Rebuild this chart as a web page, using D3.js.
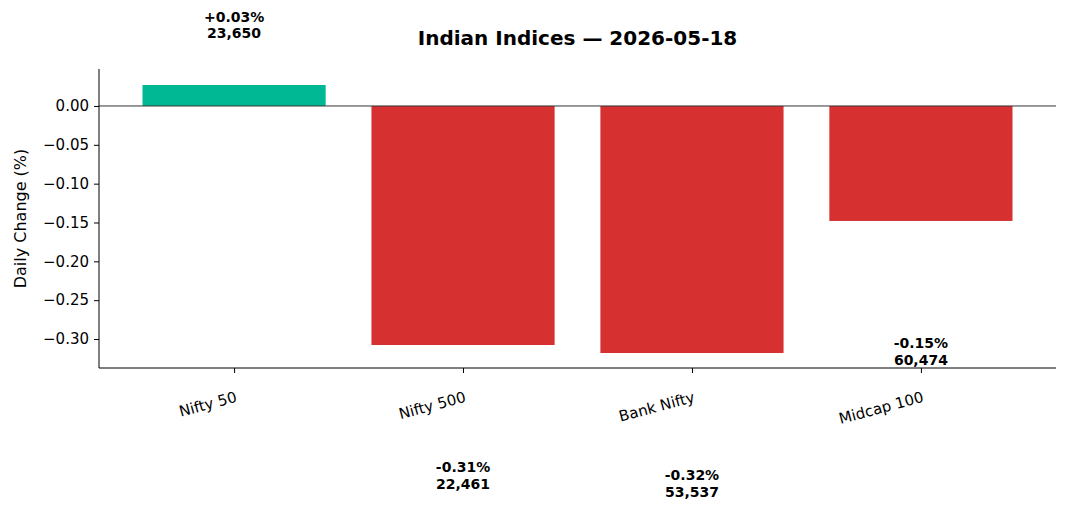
<!DOCTYPE html>
<html>
<head>
<meta charset="utf-8">
<script src="https://cdn.jsdelivr.net/npm/d3@7"></script>
<style>
  body { margin: 0; background: #fff; }
  text { font-family: "DejaVu Sans", sans-serif; }
</style>
</head>
<body>
<svg id="chart"></svg>
<script>
const indices = ["Nifty 50", "Nifty 500", "Bank Nifty", "Midcap 100"];
const changes = [0.027, -0.3077, -0.318, -0.148];
const changeLabels = ["+0.03%", "-0.31%", "-0.32%", "-0.15%"];
const levelLabels = ["23,650", "22,461", "53,537", "60,474"];
const yTicks = [0, -0.05, -0.10, -0.15, -0.20, -0.25, -0.30];

const width = 1067, height = 515;
const padLeft = 99, padRight = 1056, padTop = 69, padBottom = 368;

const svg = d3.select("#chart").attr("width", width).attr("height", height);

// x: matplotlib-like positions, bar width 0.8
let x = d3.scaleLinear().domain([-0.59, 3.59]).range([padLeft, padRight]);
let y = d3.scaleLinear().domain([-0.3373, 0.0476]).range([padBottom, padTop]);

//bars
svg.selectAll("rect.bar")
    .data(changes)
    .enter()
    .append("rect")
    .attr("class", "bar")
    .attr("x", (_d, i) => x(i - 0.4))
    .attr("width", x(0.8) - x(0))
    .attr("y", d => y(Math.max(0, d)))
    .attr("height", d => Math.abs(y(d) - y(0)))
    .attr("fill", d => d >= 0 ? "#00b894" : "#d63031");

// zero line
svg.append("line")
    .attr("x1", padLeft).attr("x2", padRight)
    .attr("y1", y(0)).attr("y2", y(0))
    .attr("stroke", "#333").attr("stroke-width", 1);

//axes
let yAxis = d3.axisLeft(y).tickValues(yTicks).tickSize(5).tickPadding(5)
    .tickFormat(d => d3.format(".2f")(d).replace("-", "\u2212"));
let gy = svg.append("g").attr("transform", `translate(${padLeft},0)`).call(yAxis);
gy.select(".domain").attr("d", `M0,${padTop}V${padBottom}`);

let xAxis = d3.axisBottom(x).tickValues([0, 1, 2, 3]).tickSize(5).tickFormat(i => indices[i]);
let gx = svg.append("g").attr("transform", `translate(0,${padBottom})`).call(xAxis);
gx.select(".domain").attr("d", `M${padLeft},0H${padRight}`);
gx.selectAll("text")
    .attr("text-anchor", "end")
    .attr("dy", 0)
    .attr("transform", "translate(0,22) rotate(-15)")
    .attr("y", 12)
    .attr("x", 0);

svg.selectAll(".tick text").attr("font-size", 15).attr("fill", "#000");
svg.selectAll(".domain, .tick line").attr("stroke", "#000");

// value labels
const lbl = svg.selectAll("text.val")
    .data(changes)
    .enter()
    .append("text")
    .attr("class", "val")
    .attr("text-anchor", "middle")
    .attr("font-size", 14)
    .attr("font-weight", "bold")
    .attr("x", (_d, i) => x(i))
    .attr("y", d => y(d >= 0 ? d + 0.075 : d - 0.17) - 3);
lbl.append("tspan").attr("dy", "-0.15em").text((_d, i) => changeLabels[i]);
lbl.append("tspan").attr("x", (_d, i) => x(i)).attr("dy", "1.2em").text((_d, i) => levelLabels[i]);

//title
svg.append("text")
    .attr("x", (padLeft + padRight) / 2)
    .attr("y", 45)
    .attr("text-anchor", "middle")
    .attr("font-size", 20)
    .attr("font-weight", "bold")
    .text("Indian Indices \u2014 2026-05-18");

svg.append("text")
    .attr("transform", "rotate(-90)")
    .attr("x", -(padTop + padBottom) / 2)
    .attr("y", 26)
    .attr("text-anchor", "middle")
    .attr("font-size", 16)
    .text("Daily Change (%)");
</script>
</body>
</html>
